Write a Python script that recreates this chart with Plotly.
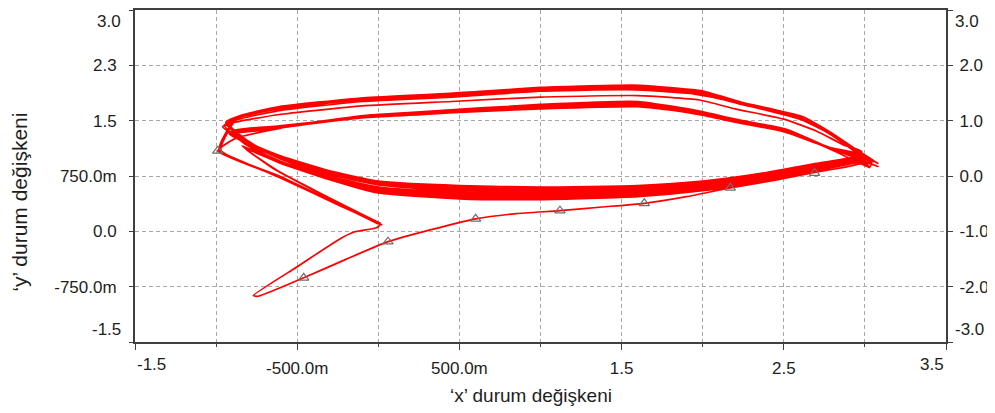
import plotly.graph_objects as go

# ---- data ----
start_x = [-0.99, -0.60, -0.25, 0.01, -0.01, -0.15, -0.25, -0.50, -0.77, -0.74, -0.46, -0.20, 0.06, 0.32, 0.60, 0.85, 1.12, 1.38, 1.64, 1.90, 2.17, 2.44, 2.69, 2.88, 3.06]
start_y = [1.09, 0.72, 0.36, 0.09, 0.05, -0.01, -0.12, -0.48, -0.87, -0.88, -0.63, -0.38, -0.14, 0.02, 0.17, 0.24, 0.28, 0.33, 0.38, 0.47, 0.59, 0.69, 0.80, 0.87, 0.95]

loop1_x = [3.07, 2.97, 2.78, 2.62, 2.23, 1.98, 1.61, 1.00, 0.44, -0.09, -0.61, -0.85, -0.93, -0.80, -0.60, -0.30, 0.00, 0.50, 1.00, 1.60, 2.00, 2.40, 2.70, 2.95]
loop1_y = [0.93, 1.08, 1.33, 1.55, 1.74, 1.90, 1.98, 1.95, 1.86, 1.80, 1.68, 1.56, 1.47, 1.22, 0.98, 0.78, 0.63, 0.56, 0.54, 0.57, 0.64, 0.77, 0.88, 0.98]

loop2_x = [2.98, 2.92, 2.76, 2.58, 2.25, 1.95, 1.55, 1.00, 0.45, -0.10, -0.60, -0.84, -0.95, -0.82, -0.62, -0.30, 0.00, 0.50, 1.00, 1.60, 2.00, 2.40, 2.72, 2.98]
loop2_y = [1.08, 1.14, 1.36, 1.56, 1.73, 1.86, 1.92, 1.90, 1.82, 1.76, 1.64, 1.53, 1.44, 1.18, 0.95, 0.72, 0.57, 0.49, 0.47, 0.50, 0.58, 0.72, 0.86, 1.00]

loop3_x = [3.00, 2.80, 2.50, 2.20, 1.98, 1.61, 1.00, 0.45, -0.09, -0.61, -0.85, -0.92, -0.80, -0.60, -0.30, 0.00, 0.50, 1.00, 1.60, 2.00, 2.40, 2.70, 2.97]
loop3_y = [1.02, 1.12, 1.38, 1.52, 1.62, 1.75, 1.71, 1.63, 1.57, 1.40, 1.34, 1.33, 1.20, 1.02, 0.82, 0.68, 0.62, 0.60, 0.62, 0.68, 0.80, 0.92, 1.03]

loop4_x = [2.95, 2.78, 2.50, 2.20, 1.98, 1.60, 1.00, 0.26, -0.09, -0.60, -0.88, -0.99, -0.60, -0.25, 0.02, -0.28, -0.62, -0.82, -0.60, -0.30, 0.00, 0.50, 1.00, 1.60, 2.00, 2.40, 2.70, 2.99]
loop4_y = [1.06, 1.14, 1.36, 1.50, 1.60, 1.72, 1.68, 1.58, 1.54, 1.40, 1.26, 1.09, 0.73, 0.37, 0.09, 0.42, 0.82, 1.12, 0.92, 0.70, 0.55, 0.47, 0.45, 0.49, 0.57, 0.70, 0.83, 0.97]

loop5_x = [3.05, 2.95, 2.80, 2.60, 2.25, 1.98, 1.60, 1.00, 0.45, -0.10, -0.62, -0.86, -0.94, -0.80, -0.58, -0.30, 0.00, 0.50, 1.00, 1.60, 2.00, 2.40, 2.70, 2.96]
loop5_y = [0.90, 1.06, 1.30, 1.52, 1.72, 1.88, 1.95, 1.93, 1.84, 1.78, 1.66, 1.54, 1.46, 1.20, 0.96, 0.75, 0.60, 0.52, 0.50, 0.53, 0.61, 0.74, 0.86, 0.96]

loop6_x = [3.02, 2.82, 2.50, 2.20, 1.98, 1.60, 1.00, 0.26, -0.09, -0.61, -0.90, -0.78, -0.58, -0.30, 0.00, 0.50, 1.00, 1.60, 2.00, 2.40, 2.70, 2.96]
loop6_y = [0.99, 1.10, 1.35, 1.48, 1.58, 1.70, 1.67, 1.60, 1.55, 1.43, 1.36, 1.16, 0.97, 0.79, 0.66, 0.58, 0.57, 0.59, 0.66, 0.78, 0.90, 1.00]

loop7_x = [2.96, 2.88, 2.70, 2.50, 2.20, 1.98, 1.60, 1.00, 0.45, -0.10, -0.62, -0.88, -0.96, -0.82, -0.60, -0.30, 0.00, 0.50, 1.00, 1.60, 2.00, 2.40, 2.70, 3.00]
loop7_y = [1.10, 1.16, 1.36, 1.52, 1.66, 1.78, 1.84, 1.82, 1.76, 1.70, 1.58, 1.48, 1.42, 1.20, 1.00, 0.80, 0.67, 0.60, 0.58, 0.61, 0.67, 0.79, 0.90, 1.01]

loop8_x = [3.08, 2.97, 2.80, 2.60, 2.25, 1.98, 1.60, 1.00, 0.45, -0.10, -0.60, -0.88, -0.98, -0.58, -0.22, 0.01, -0.30, -0.64, -0.84, -0.62, -0.30, 0.00, 0.50, 1.00, 1.60, 2.00, 2.40, 2.70, 3.00]
loop8_y = [0.92, 1.06, 1.32, 1.54, 1.73, 1.89, 1.96, 1.94, 1.85, 1.79, 1.67, 1.52, 1.11, 0.72, 0.34, 0.11, 0.45, 0.84, 1.16, 0.94, 0.70, 0.52, 0.44, 0.43, 0.47, 0.55, 0.68, 0.82, 0.94]

loop9_x = [3.04, 2.84, 2.52, 2.20, 1.98, 1.60, 1.00, 0.26, -0.09, -0.60, -0.92, -0.80, -0.60, -0.30, 0.00, 0.50, 1.00, 1.60, 2.00, 2.40, 2.70, 2.98]
loop9_y = [0.96, 1.08, 1.38, 1.52, 1.63, 1.76, 1.72, 1.62, 1.57, 1.42, 1.32, 1.18, 0.99, 0.80, 0.64, 0.56, 0.55, 0.58, 0.64, 0.76, 0.88, 0.98]

loop10_x = [3.06, 2.96, 2.79, 2.61, 2.24, 1.98, 1.62, 1.02, 0.44, -0.09, -0.61, -0.85, -0.94, -0.81, -0.61, -0.30, 0.00, 0.50, 1.00, 1.60, 2.00, 2.40, 2.70, 2.96]
loop10_y = [0.95, 1.09, 1.34, 1.56, 1.75, 1.91, 1.97, 1.95, 1.87, 1.81, 1.69, 1.57, 1.48, 1.19, 0.94, 0.70, 0.54, 0.46, 0.45, 0.49, 0.57, 0.71, 0.85, 0.97]

loop11_x = [3.03, 2.81, 2.50, 2.21, 1.98, 1.61, 1.02, 0.26, -0.09, -0.61, -0.89, -0.79, -0.59, -0.30, 0.00, 0.50, 1.00, 1.60, 2.00, 2.40, 2.70, 2.97]
loop11_y = [0.86, 1.09, 1.37, 1.50, 1.61, 1.73, 1.70, 1.61, 1.56, 1.41, 1.34, 1.14, 0.94, 0.74, 0.60, 0.52, 0.51, 0.54, 0.62, 0.75, 0.88, 0.99]

loop12_x = [3.05, 2.95, 2.79, 2.60, 2.24, 1.97, 1.58, 1.00, 0.45, -0.10, -0.61, -0.87, -0.97, -0.59, -0.23, 0.00, -0.29, -0.63, -0.83, -0.61, -0.30, 0.00, 0.50, 1.00, 1.60, 2.00, 2.40, 2.70, 2.99]
loop12_y = [0.94, 1.07, 1.31, 1.53, 1.72, 1.87, 1.94, 1.92, 1.84, 1.78, 1.66, 1.53, 1.10, 0.73, 0.35, 0.10, 0.44, 0.83, 1.14, 0.93, 0.72, 0.58, 0.50, 0.49, 0.52, 0.60, 0.73, 0.86, 0.98]

loop13_x = [3.08, 2.83, 2.51, 2.20, 1.98, 1.60, 1.00, 0.26, -0.09, -0.61, -0.91, -0.79, -0.60, -0.30, 0.00, 0.50, 1.00, 1.60, 2.00, 2.40, 2.70, 2.97, 3.03]
loop13_y = [0.88, 1.09, 1.36, 1.49, 1.59, 1.69, 1.66, 1.59, 1.54, 1.42, 1.35, 1.17, 0.98, 0.77, 0.63, 0.54, 0.52, 0.55, 0.63, 0.76, 0.89, 1.00, 0.87]

marker_x = [-0.99, -0.46, 0.06, 0.60, 1.12, 1.64, 2.17, 2.69]
marker_y = [1.09, -0.63, -0.14, 0.17, 0.28, 0.38, 0.59, 0.79]

x_tickvals = [-1.5, -0.5, 0.5, 1.5, 2.5, 3.5]
x_ticktext = ["", "-500.0m", "500.0m", "1.5", "2.5", ""]
x_minor = [-1.0, 0.0, 1.0, 2.0, 3.0]
yl_tickvals = [-1.5, -0.75, 0.0, 0.75, 1.5, 2.25, 3.0]
yl_ticktext = ["", "-750.0m", "0.0", "750.0m", "1.5", "2.3", ""]
yr_tickvals = [-3, -2, -1, 0, 1, 2, 3]
yr_ticktext = ["", "-2.0", "-1.0", "0.0", "1.0", "2.0", ""]

# ---- build ----
segments_x = [start_x, loop1_x, loop3_x, loop2_x, loop4_x, loop10_x, loop5_x, loop11_x, loop6_x,
              loop12_x, loop7_x, loop8_x, loop13_x, loop9_x]
segments_y = [start_y, loop1_y, loop3_y, loop2_y, loop4_y, loop10_y, loop5_y, loop11_y, loop6_y,
              loop12_y, loop7_y, loop8_y, loop13_y, loop9_y]
traj_x, traj_y = [], []
for sx, sy in zip(segments_x, segments_y):
    traj_x += sx
    traj_y += sy

RED = "#FF0000"
AX = "#404040"
GRID = "#A8A8A8"
TXT = "#1E1E1E"
FONT = "Liberation Sans, Arial, sans-serif"

fig = go.Figure()
fig.add_trace(go.Scatter(x=traj_x, y=traj_y, mode="lines",
                         line=dict(color=RED, width=1.7, shape="spline", smoothing=0.5),
                         showlegend=False))
fig.add_trace(go.Scatter(x=marker_x, y=marker_y, mode="markers",
                         marker=dict(symbol="triangle-up-open", size=9,
                                     color="#6E6E6E", line=dict(width=1.2)),
                         showlegend=False))
fig.add_trace(go.Scatter(x=[], y=[], yaxis="y2", showlegend=False))

# the page body adds an 8px offset, so the figure is sized 8px smaller
fig.update_layout(
    width=987, height=405,
    margin=dict(l=127, r=49, t=2, b=71),
    paper_bgcolor="white", plot_bgcolor="white",
    font=dict(family=FONT, size=17, color=TXT),
    xaxis=dict(range=[-1.5, 3.5], tickvals=x_tickvals, ticktext=x_ticktext,
               showline=True, linecolor=AX, linewidth=2, mirror=True,
               ticks="outside", ticklen=6, tickwidth=1, tickcolor=AX,
               showgrid=True, gridcolor=GRID, griddash="4px,3px", gridwidth=1,
               zeroline=False, ticklabelstandoff=4, automargin=False,
               minor=dict(tickvals=x_minor, ticks="outside", ticklen=3,
                          tickcolor=AX, showgrid=True, gridcolor=GRID,
                          griddash="4px,3px", gridwidth=1)),
    yaxis=dict(range=[-1.5, 3.0], tickvals=yl_tickvals, ticktext=yl_ticktext,
               showline=True, linecolor=AX, linewidth=2,
               ticks="outside", ticklen=4, tickwidth=1, tickcolor=AX,
               showgrid=True, gridcolor=GRID, griddash="4px,3px", gridwidth=1,
               zeroline=False, ticklabelstandoff=9, automargin=False),
    yaxis2=dict(range=[-3, 3], overlaying="y", side="right",
                tickvals=yr_tickvals, ticktext=yr_ticktext,
                showline=True, linecolor=AX, linewidth=2,
                ticks="outside", ticklen=5, tickwidth=1, tickcolor=AX,
                showgrid=False, zeroline=False, ticklabelstandoff=3, automargin=False),
)

ann = []
# end tick labels kept inside the frame, as in the reference
ann.append(dict(x=-1.5, xref="x", y=0, yref="paper", text="-1.5", showarrow=False,
                xanchor="left", yanchor="top", yshift=-11))
ann.append(dict(x=3.5, xref="x", y=0, yref="paper", text="3.5", showarrow=False,
                xanchor="right", yanchor="top", yshift=-11))
ann.append(dict(x=0, xref="paper", y=3.0, yref="y", text="3.0", showarrow=False,
                xanchor="right", yanchor="top", xshift=-12, yshift=0))
ann.append(dict(x=0, xref="paper", y=-1.5, yref="y", text="-1.5", showarrow=False,
                xanchor="right", yanchor="bottom", xshift=-12, yshift=1))
ann.append(dict(x=1, xref="paper", y=3, yref="y2", text="3.0", showarrow=False,
                xanchor="left", yanchor="top", xshift=7, yshift=0))
ann.append(dict(x=1, xref="paper", y=-3, yref="y2", text="-3.0", showarrow=False,
                xanchor="left", yanchor="bottom", xshift=7, yshift=1))
# axis titles
ann.append(dict(x=0.488, xref="paper", y=-0.16, yref="paper",
                text="\u2018x\u2019 durum de\u011fi\u015fkeni", showarrow=False,
                xanchor="center", yanchor="middle", font=dict(size=19, color=TXT)))
ann.append(dict(x=-0.1418, xref="paper", y=0.42, yref="paper",
                text="\u2018y\u2019 durum de\u011fi\u015fkeni", showarrow=False,
                textangle=-90, xanchor="center", yanchor="middle",
                font=dict(size=21, color=TXT)))
fig.update_layout(annotations=ann)

fig.write_html("out.html")
